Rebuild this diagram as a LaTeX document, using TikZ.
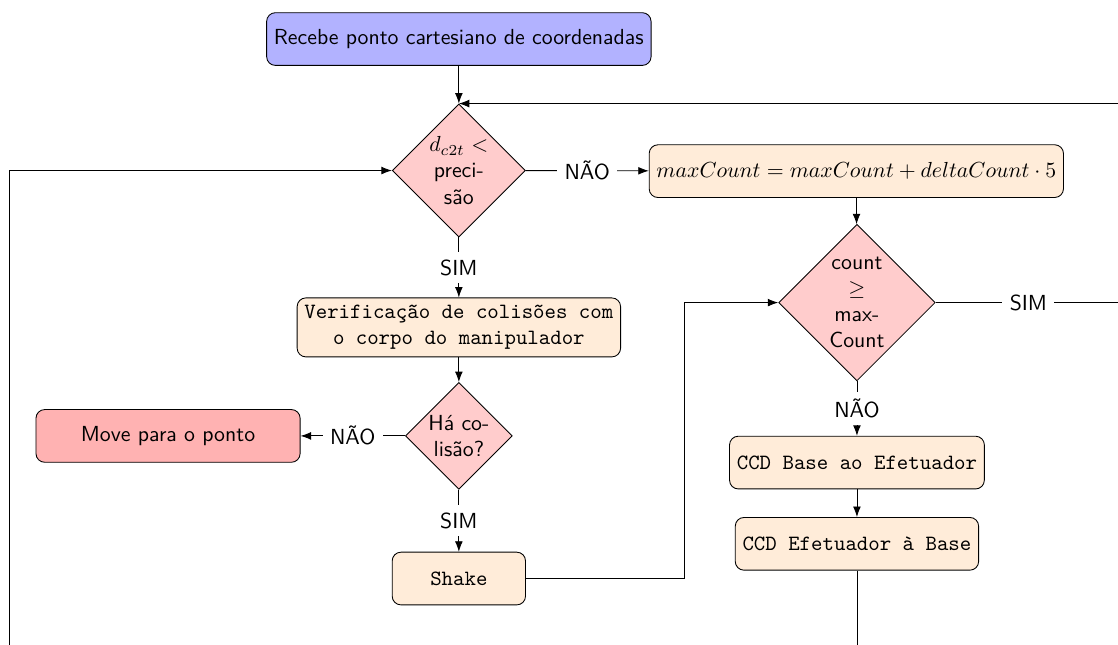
\documentclass[tikz,border=0pt]{standalone}
\usetikzlibrary{shapes.geometric,arrows.meta}
\begin{document}
\begin{tikzpicture}[
    decision/.style={diamond, draw, fill=red!20, text width=3em, align=center, inner sep=0pt, font=\sffamily},
    block/.style={rectangle, draw, fill=orange!15, rounded corners, minimum height=0.85cm, align=center, font=\ttfamily},
    startblock/.style={block, fill=blue!30, font=\sffamily},
    moveblock/.style={block, fill=red!30, font=\sffamily},
    line/.style={draw, -Latex},
    lbl/.style={fill=white, font=\sffamily}]
            \useasboundingbox (0,0) rectangle (18.03,-10.39);

            \node[startblock] (inicio) at (7.40,-0.63) {Recebe ponto cartesiano de coordenadas};
            \node[decision] (precisao) at (7.40,-2.75) {$d_{c2t} <$\\preci-\\são};
            \node[block] (maxcount) at (13.81,-2.76) {$maxCount = maxCount + deltaCount \cdot 5$};
            \node[decision] (contagem) at (13.82,-4.88) {count\\$\geq$\\max-\\Count};
            \node[block] (colisoes) at (7.40,-5.28) {Verificação de colisões com\\o corpo do manipulador};
            \node[decision] (colisao) at (7.40,-7.03) {Há co-\\lisão?};
            \node[moveblock, minimum width=4.26cm] (move) at (2.71,-7.03) {Move para o ponto};
            \node[block, minimum width=2.15cm] (shake) at (7.40,-9.33) {Shake};
            \node[block] (ccdbase) at (13.82,-7.46) {CCD Base ao Efetuador};
            \node[block] (ccdefet) at (13.82,-8.77) {CCD Efetuador à Base};

            \coordinate (direita) at (18.08,-4.88);
            \coordinate (fundo) at (0.15,-10.65);
            \coordinate (desvio) at (11.03,-9.33);

            \path [line] (inicio) -- (precisao);
            \path [line] (precisao) -- node[lbl] {NÃO} (maxcount);
            \path [line] (precisao) -- node[lbl] {SIM} (colisoes);
            \path [line] (maxcount) -- (contagem);
            \path [line] (contagem) -- node[lbl] {SIM} (direita) |- (precisao.north);
            \path [line] (contagem) -- node[lbl] {NÃO} (ccdbase);
            \path [line] (colisoes) -- (colisao);
            \path [line] (colisao) -- node[lbl] {NÃO} (move);
            \path [line] (colisao) -- node[lbl] {SIM} (shake);
            \path [line] (shake) -- (desvio) |- (contagem);
            \path [line] (ccdbase) -- (ccdefet);
            \path [line] (ccdefet) |- (fundo) |- (precisao);
        \end{tikzpicture}
\end{document}
